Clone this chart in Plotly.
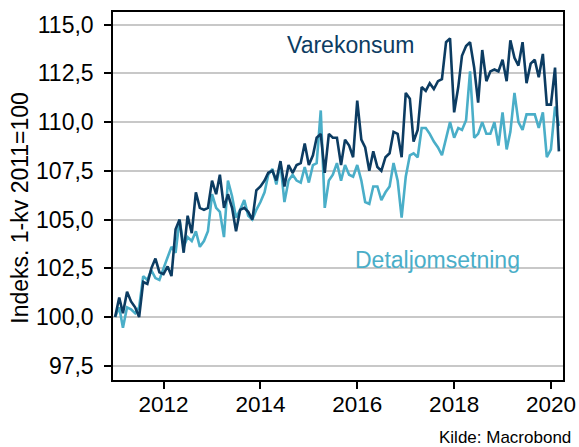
import pandas as pd
import plotly.graph_objects as go

dates = pd.date_range("2011-01-01", periods=111, freq="MS")

varekonsum = [
    100.0, 101.0, 100.2, 101.3, 100.8, 100.5, 100.0, 101.8, 101.7, 102.5,
    103.0, 102.3, 102.2, 102.6, 102.1, 104.5, 105.0, 103.3, 105.2, 104.3,
    106.4, 105.6, 105.5, 105.6, 107.0, 106.3, 107.3, 105.6, 106.3, 105.6,
    104.4, 105.5, 105.6, 105.4, 105.0, 106.5, 106.7, 107.0, 107.4, 107.5,
    107.0, 108.0, 106.7, 107.8, 107.4, 107.8, 107.9, 108.9, 107.8, 108.3,
    109.2, 109.4, 107.4, 109.4, 109.2, 109.2, 107.8, 109.1, 108.8, 108.2,
    111.1, 109.1, 108.7, 107.5, 108.5, 107.7, 107.5, 108.2, 108.4, 109.5,
    109.4, 108.2, 111.5, 111.2, 109.0, 109.6, 111.8, 111.6, 112.0, 111.7,
    112.1, 112.2, 114.1, 114.3, 110.5, 111.8, 113.4, 113.9, 114.1, 112.8,
    111.0, 113.7, 112.1, 112.6, 112.7, 112.6, 113.2, 112.1, 114.2, 113.3,
    112.9, 114.1, 112.0, 113.0, 113.2, 112.3, 113.5, 110.9, 110.9, 112.8,
    108.5,
]

detaljomsetning = [
    100.0, 100.5, 99.45, 100.5, 100.4, 100.2, 100.5, 102.1, 101.9, 102.4,
    102.0, 101.9, 102.5, 103.1, 103.6, 103.3, 105.0, 103.6, 104.1, 103.9,
    104.4, 103.6, 103.9, 104.4, 106.3, 105.6, 105.4, 104.1, 107.0, 106.2,
    105.1, 105.5, 106.0, 105.2, 105.0, 105.5, 105.9, 106.4, 107.3, 107.6,
    106.8, 107.9, 105.9, 107.0, 107.3, 107.0, 106.9, 107.7, 106.9, 107.8,
    107.9, 110.6, 105.6, 107.0, 107.3, 107.9, 107.0, 107.8, 107.3, 107.2,
    107.8, 107.0, 105.9, 105.8, 106.7, 106.7, 106.0, 106.4, 106.7, 107.9,
    107.0, 105.1, 107.2, 108.3, 108.4, 108.2, 109.7, 109.7, 109.4, 109.0,
    108.7, 108.3, 109.2, 110.0, 109.2, 109.7, 109.6, 110.1, 112.6, 109.2,
    109.4, 110.0, 109.4, 109.4, 110.0, 108.8, 110.5, 108.6, 109.5, 111.5,
    110.0, 109.6, 110.4, 110.4, 110.4, 109.7, 110.5, 108.2, 108.6, 110.8,
    109.8,
]

y_ticks = [97.5, 100.0, 102.5, 105.0, 107.5, 110.0, 112.5, 115.0]

DARK = "#0c3c62"
LIGHT = "#4aaec8"
FONT = "Liberation Sans, Arial, sans-serif"

fig = go.Figure()
fig.add_trace(go.Scatter(x=dates, y=detaljomsetning, mode="lines",
                         line=dict(color=LIGHT, width=2.6), name="Detaljomsetning"))
fig.add_trace(go.Scatter(x=dates, y=varekonsum, mode="lines",
                         line=dict(color=DARK, width=2.6), name="Varekonsum"))

fig.add_annotation(x="2015-11-15", y=113.94, text="Varekonsum", showarrow=False,
                   font=dict(color=DARK, size=23, family=FONT), xref="x", yref="y")
fig.add_annotation(x="2017-09-01", y=102.91, text="Detaljomsetning", showarrow=False,
                   font=dict(color=LIGHT, size=23, family=FONT), xref="x", yref="y")
fig.add_annotation(x=-0.2053, y=0.467, xref="paper", yref="paper", textangle=-90,
                   xanchor="center", yanchor="middle",
                   text="Indeks. 1-kv 2011=100", showarrow=False,
                   font=dict(color="#000000", size=23, family=FONT))
fig.add_annotation(x=1.0, y=-0.1575, xref="paper", yref="paper", xanchor="right",
                   yanchor="middle", text="Kilde: Macrobond", showarrow=False,
                   font=dict(color="#000000", size=17, family=FONT), xshift=10)

fig.update_layout(
    width=579, height=447,
    margin=dict(l=112.5, r=16, t=11.7, b=67, autoexpand=False),
    paper_bgcolor="white", plot_bgcolor="white",
    showlegend=False,
    separators=", ",
    font=dict(family=FONT, size=22, color="#000000"),
)
fig.update_xaxes(
    type="date", range=["2010-12-16", "2020-04-01"],
    tick0="2012-01-01", dtick="M24", tickformat="%Y",
    ticks="outside", ticklen=7, tickwidth=1.5, tickcolor="#000",
    showline=True, linecolor="#000", linewidth=1.5, mirror=True,
    showgrid=False, tickfont=dict(size=22.5), ticklabelstandoff=-4,
)
fig.update_yaxes(
    range=[96.77, 115.65], tickvals=y_ticks, tickformat=".1f",
    ticks="outside", ticklen=7, tickwidth=1.5, tickcolor="#000",
    showline=True, linecolor="#000", linewidth=1.5, mirror=True,
    showgrid=True, gridcolor="#c8c8c8", gridwidth=1.5, zeroline=False,
    tickfont=dict(size=23), ticklabelstandoff=6,
)

fig.write_html("out.html", config={"displayModeBar": False},
               post_script="document.body.style.margin='0';")
